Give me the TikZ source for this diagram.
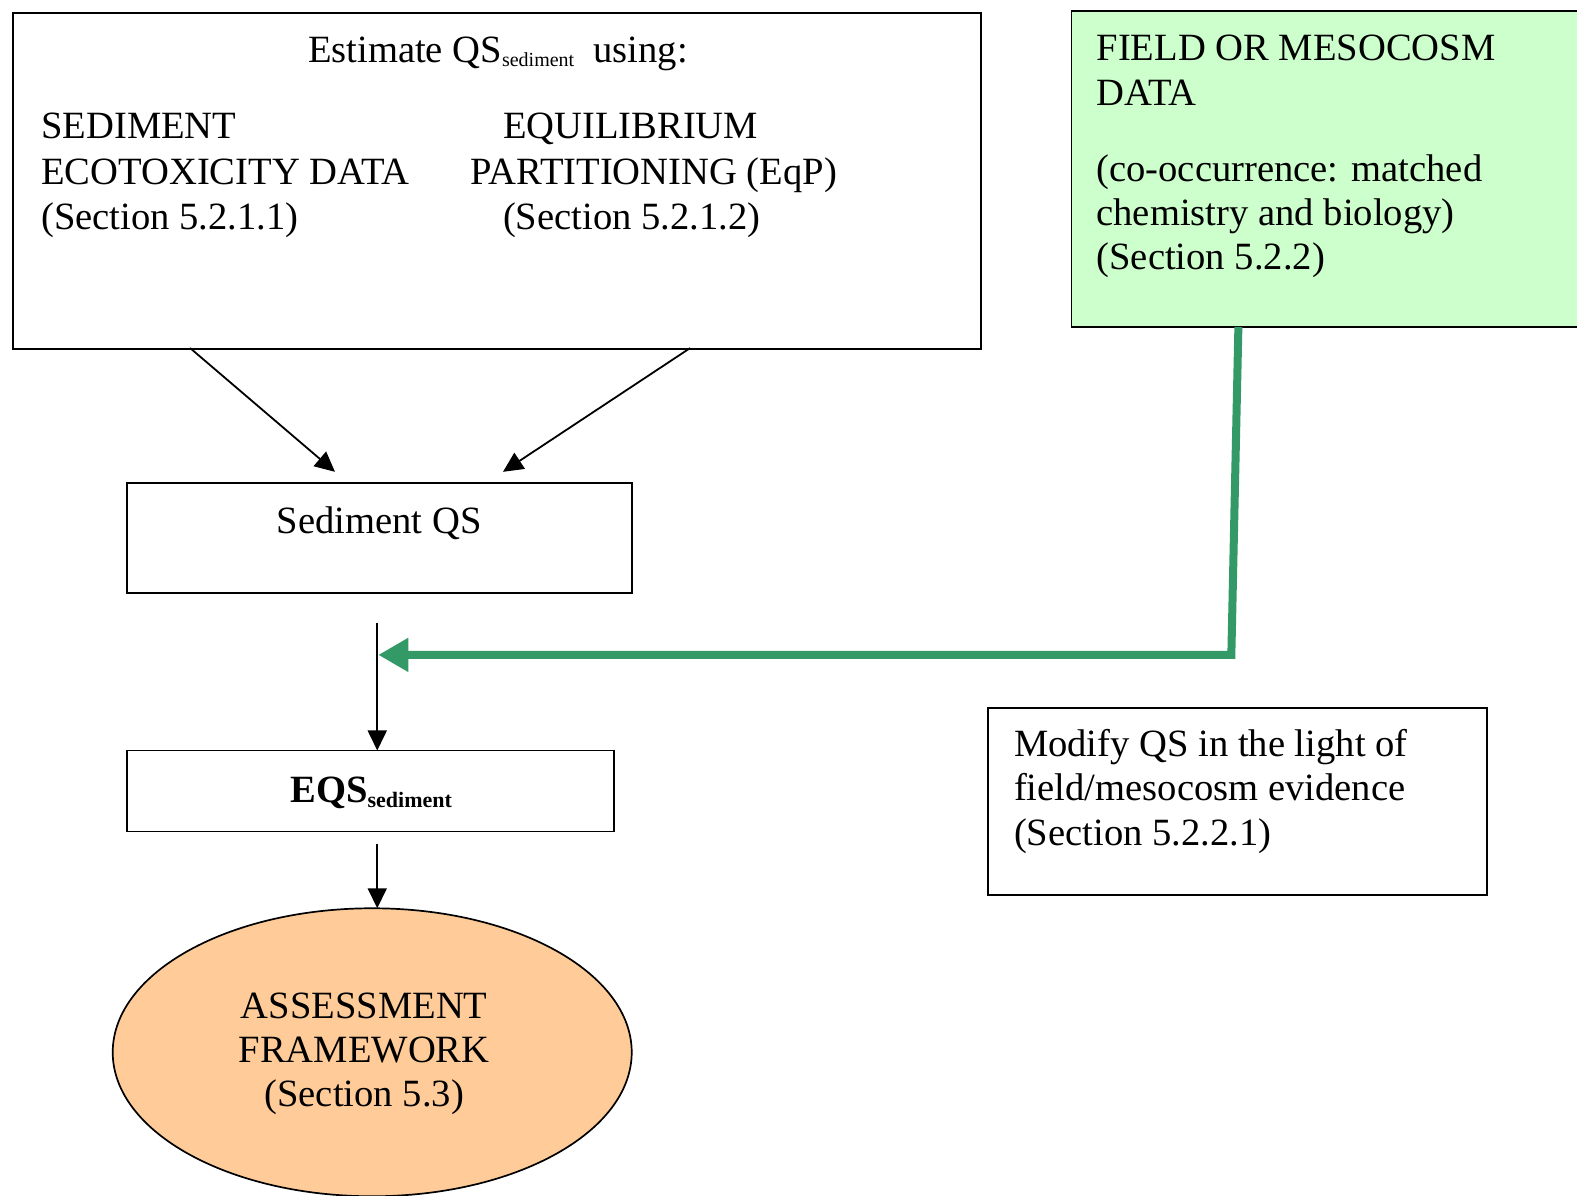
\documentclass[tikz,border=0pt]{standalone}
\usepackage{fontspec}
\setmainfont{Liberation Serif}
\usetikzlibrary{arrows.meta,shapes.geometric}
\definecolor{boxgreen}{HTML}{CCFFCC}
\definecolor{linegreen}{HTML}{339966}
\definecolor{ovalorange}{HTML}{FFCC99}
\newcommand{\subsed}{\raisebox{-0.25ex}{\fontsize{20}{22}\selectfont sediment}}
\begin{document}
\begin{tikzpicture}[x=1.006pt,y=-1.006pt,
  every node/.style={inner sep=0pt, outer sep=0pt},
  frame/.style={draw=black, line width=1.7pt, rectangle},
  txt/.style={font=\fontsize{38.6}{44.5}\selectfont, anchor=base west},
  ctxt/.style={font=\fontsize{38.6}{44.5}\selectfont, anchor=base},
  blk/.style={line width=1.8pt, -{Triangle[length=20pt,width=19pt]}},
  grn/.style={line width=8pt, draw=linegreen, -{Triangle[length=30pt,width=32pt]}}
]
\useasboundingbox (0,0) rectangle (1567.6,1187.9);

% boxes
\node[frame, minimum width=968pt, minimum height=336pt, anchor=north west] (top) at (13,13) {};
\node[frame, fill=boxgreen, minimum width=540pt, minimum height=316pt, anchor=north west] (field) at (1065,11) {};
\node[frame, minimum width=505pt, minimum height=110pt, anchor=north west] (sqs) at (126,480) {};
\node[frame, minimum width=487pt, minimum height=81pt, anchor=north west] (eqs) at (126,746) {};
\node[frame, minimum width=499pt, minimum height=187pt, anchor=north west] (mod) at (982,704) {};
\node[draw=black, line width=1.7pt, fill=ovalorange, ellipse, minimum width=519pt, minimum height=288pt] (fw) at (370,1046) {};

% texts in top box
\node[ctxt] (est) at (495,62) {Estimate QS\subsed\ \ using:};
\node[txt] (s1) at (41,138) {SEDIMENT};
\node[txt] (s2) at (41,183) {ECOTOXICITY DATA};
\node[txt] (s3) at (41,228) {(Section 5.2.1.1)};
\node[txt] (e1) at (500,138) {EQUILIBRIUM};
\node[txt] (e2) at (468,183) {PARTITIONING (EqP)};
\node[txt] (e3) at (500,228) {(Section 5.2.1.2)};

% texts in green box
\node[txt] (f1) at (1090,60) {FIELD OR MESOCOSM};
\node[txt] (f2) at (1090,105) {DATA};
\node[txt] (f3) at (1090,180) {(co-occurrence: matched};
\node[txt] (f4) at (1090,224) {chemistry and biology)};
\node[txt] (f5) at (1090,268) {(Section 5.2.2)};

% other texts
\node[ctxt] (sqst) at (377,530) {Sediment QS};
\node[ctxt] (eqst) at (369,798) {\textbf{EQS{\raisebox{-0.25ex}{\fontsize{22}{24}\selectfont\bfseries sediment}}}};
\node[txt] (m1) at (1008,752) {Modify QS in the light of};
\node[txt] (m2) at (1008,796) {field/mesocosm evidence};
\node[txt] (m3) at (1008,840) {(Section 5.2.2.1)};
\node[ctxt] (a1) at (362,1012) {ASSESSMENT};
\node[ctxt] (a2) at (362,1056) {FRAMEWORK};
\node[ctxt] (a3) at (362,1100) {(Section 5.3)};

% connector coordinates
\coordinate (tl) at (189,346);
\coordinate (tr) at (686,346);
\coordinate (hl) at (333,469);
\coordinate (hr) at (500,469);
\coordinate (vs) at (375,619);
\coordinate (join) at (376,651);
\coordinate (gtop) at (1231,325);
\coordinate (gcorner) at (1224,651);
\coordinate (v2) at (375,839);

\draw[blk] (tl) -- (hl);
\draw[blk] (tr) -- (hr);
\draw[blk] (vs) -- (vs |- eqs.north);
\draw[blk] (v2) -- (v2 |- fw.north);
\draw[grn] (gtop) -- (gcorner) -- (join);
\end{tikzpicture}
\end{document}
